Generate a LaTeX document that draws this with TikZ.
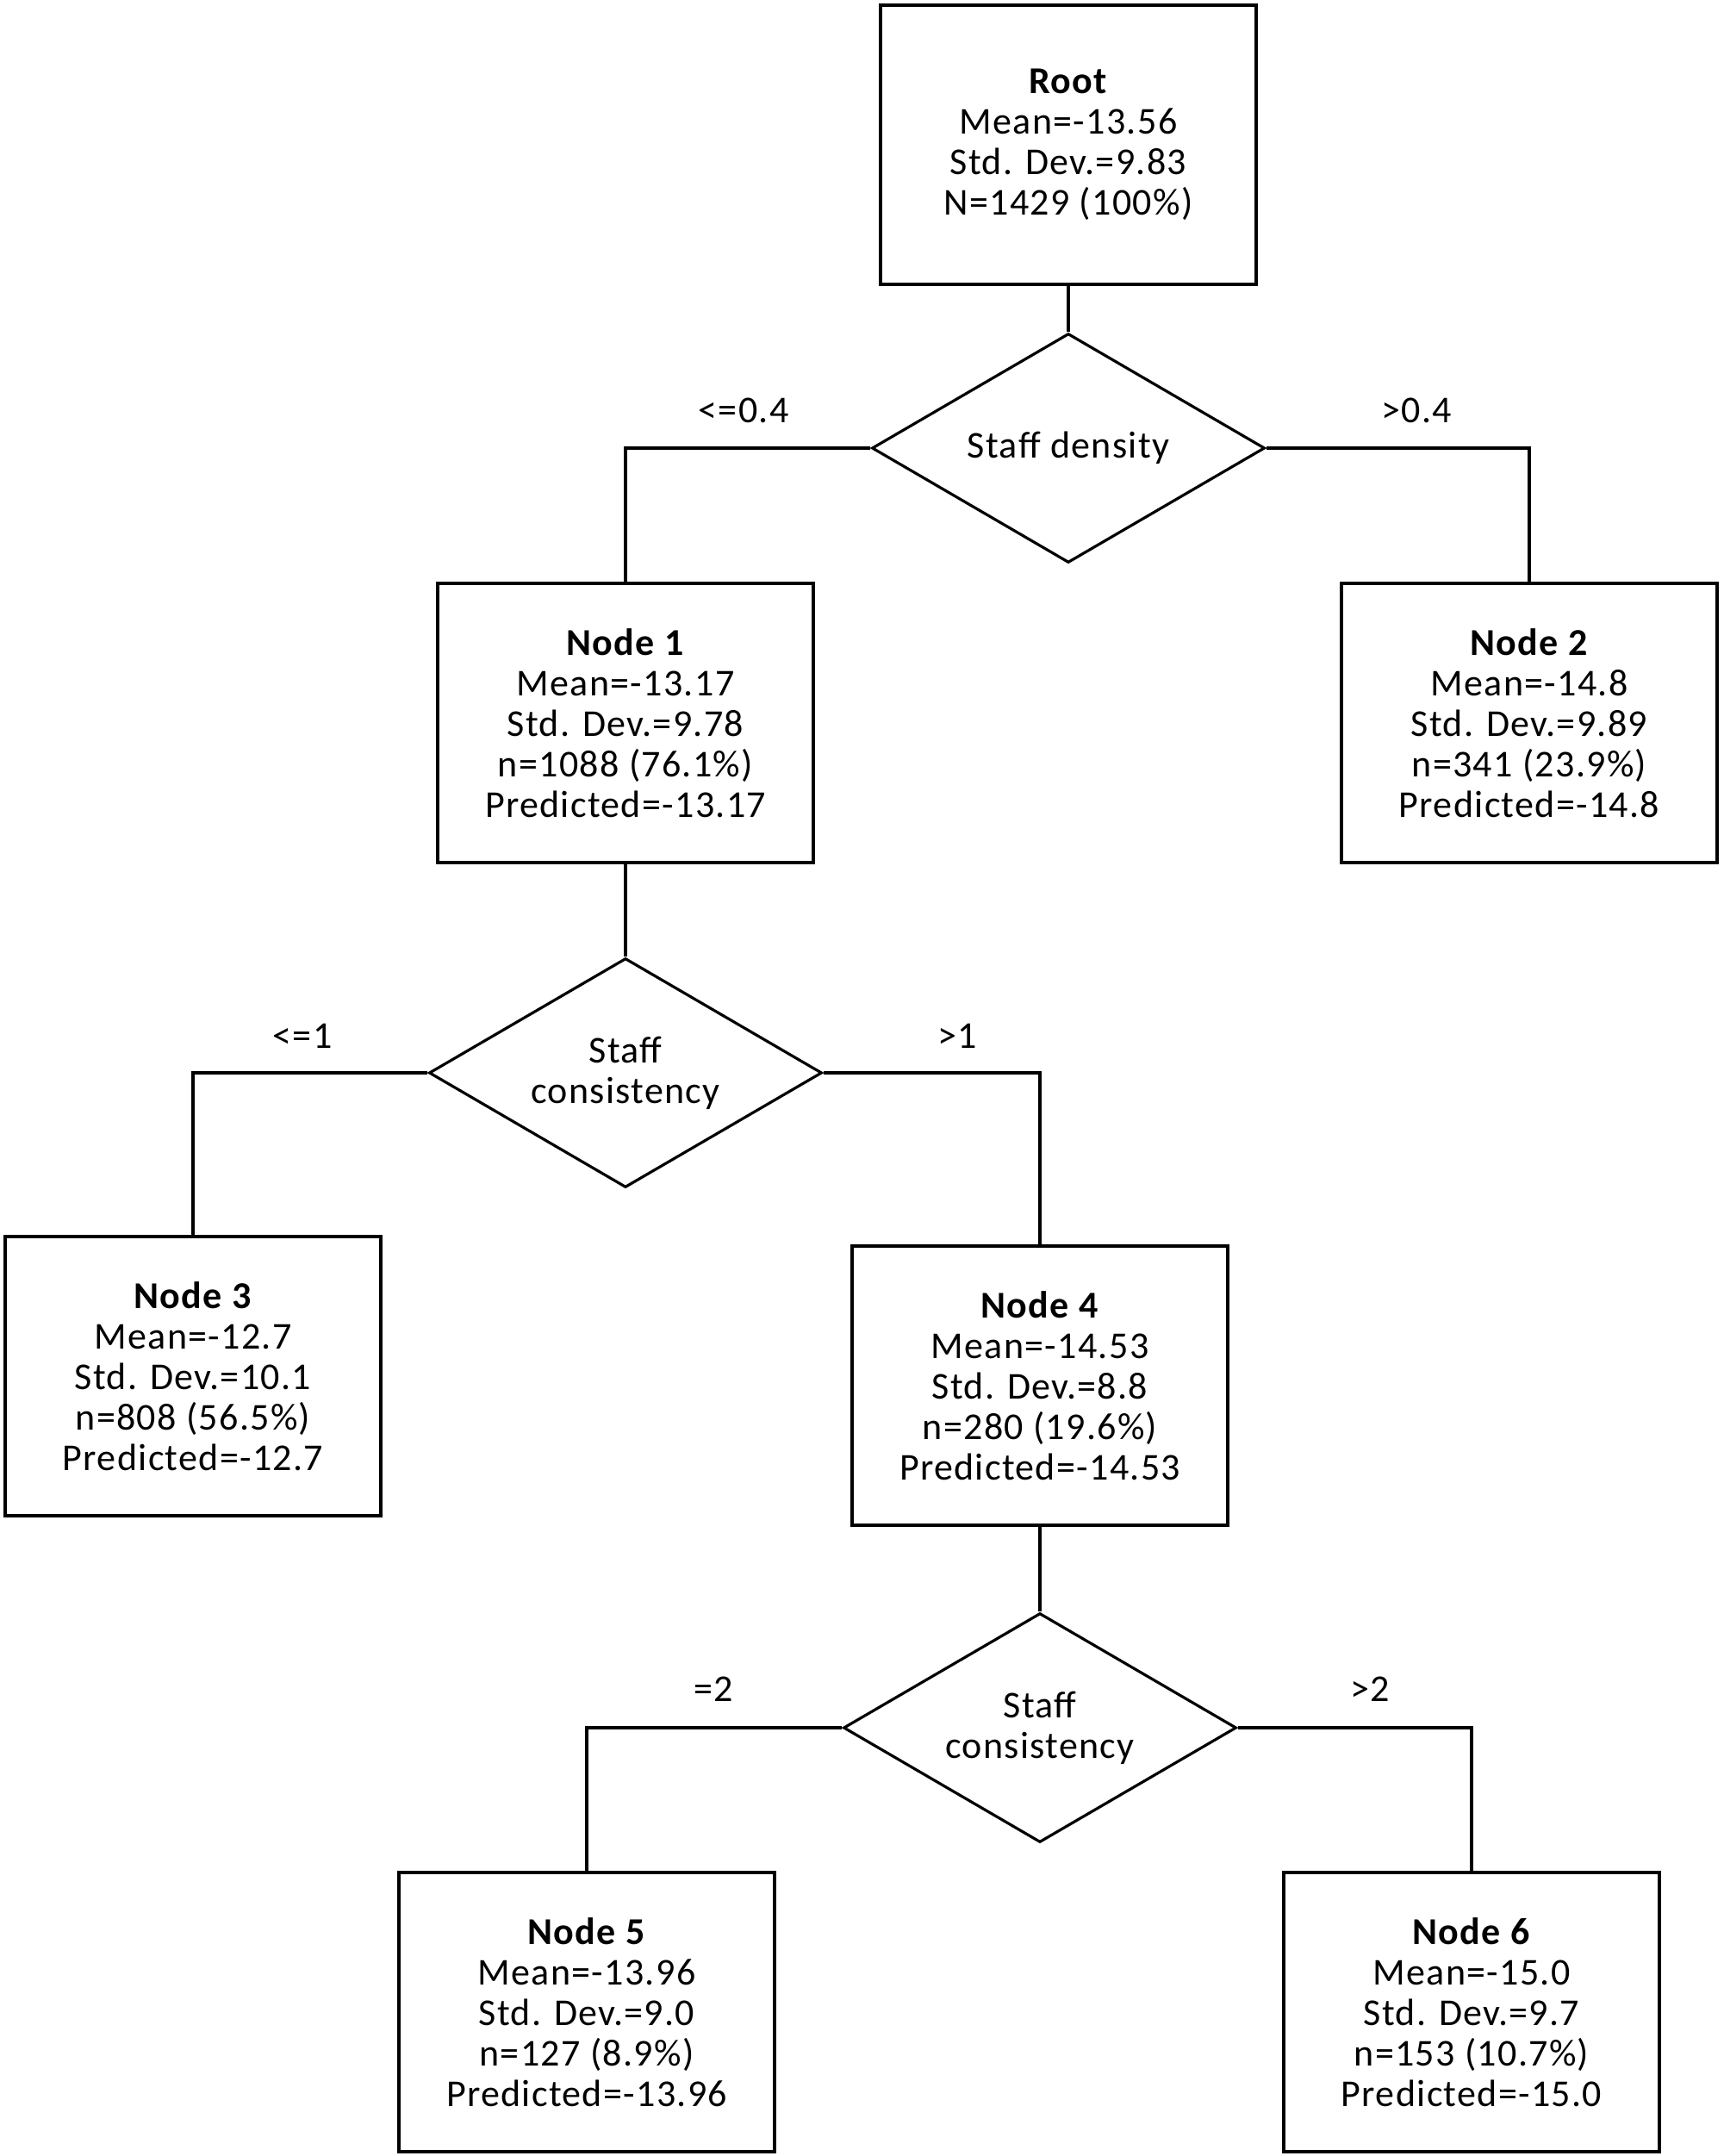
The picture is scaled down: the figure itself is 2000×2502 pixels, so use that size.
\documentclass[tikz,border=0pt]{standalone}
\usepackage{fontspec}
\setmainfont[LetterSpace=3.0]{Carlito}
\usetikzlibrary{shapes.geometric}
\begin{document}
\begin{tikzpicture}[x=0.25pt,y=-0.25pt,
  every node/.style={font=\fontsize{11pt}{11.75pt}\selectfont},
  leafbox/.style={draw=black,line width=0.8pt,rectangle,inner sep=0pt,
    minimum width=109pt,minimum height=81pt,align=center},
  splitbox/.style={draw=black,line width=0.8pt,diamond,inner sep=0pt,aspect=1.7,
    minimum width=114pt,minimum height=66.5pt,align=center},
  conn/.style={draw=black,line width=0.8pt},
  edgelab/.style={inner sep=0pt}]
\useasboundingbox (0,0) rectangle (2000,2502);
% boxes
\node[leafbox] (root) at (1240,168) {\textbf{Root}\\Mean=-13.56\\Std. Dev.=9.83\\N=1429 (100\%)};
\node[splitbox] (d1) at (1240,520) {Staff density};
\node[leafbox] (n1) at (726,839) {\textbf{Node 1}\\Mean=-13.17\\Std. Dev.=9.78\\n=1088 (76.1\%)\\Predicted=-13.17};
\node[leafbox] (n2) at (1775,839) {\textbf{Node 2}\\Mean=-14.8\\Std. Dev.=9.89\\n=341 (23.9\%)\\Predicted=-14.8};
\node[splitbox] (d2) at (726,1245) {Staff\\consistency};
\node[leafbox] (n3) at (224,1597) {\textbf{Node 3}\\Mean=-12.7\\Std. Dev.=10.1\\n=808 (56.5\%)\\Predicted=-12.7};
\node[leafbox] (n4) at (1207,1608) {\textbf{Node 4}\\Mean=-14.53\\Std. Dev.=8.8\\n=280 (19.6\%)\\Predicted=-14.53};
\node[splitbox] (d3) at (1207,2005) {Staff\\consistency};
\node[leafbox] (n5) at (681,2335) {\textbf{Node 5}\\Mean=-13.96\\Std. Dev.=9.0\\n=127 (8.9\%)\\Predicted=-13.96};
\node[leafbox] (n6) at (1708,2335) {\textbf{Node 6}\\Mean=-15.0\\Std. Dev.=9.7\\n=153 (10.7\%)\\Predicted=-15.0};
% connectors
\draw[conn] (root.south) -- (d1.north);
\draw[conn] (d1.west) -| (n1.north);
\draw[conn] (d1.east) -| (n2.north);
\draw[conn] (n1.south) -- (d2.north);
\draw[conn] (d2.west) -| (n3.north);
\draw[conn] (d2.east) -| (n4.north);
\draw[conn] (n4.south) -- (d3.north);
\draw[conn] (d3.west) -| (n5.north);
\draw[conn] (d3.east) -| (n6.north);
% edge labels
\node[edgelab] (l1) at (863,476) {<=0.4};
\node[edgelab] (l2) at (1644,476) {>0.4};
\node[edgelab] (l3) at (351,1202) {<=1};
\node[edgelab] (l4) at (1111,1202) {>1};
\node[edgelab] (l5) at (828,1960) {=2};
\node[edgelab] (l6) at (1590,1960) {>2};
\end{tikzpicture}
\end{document}
